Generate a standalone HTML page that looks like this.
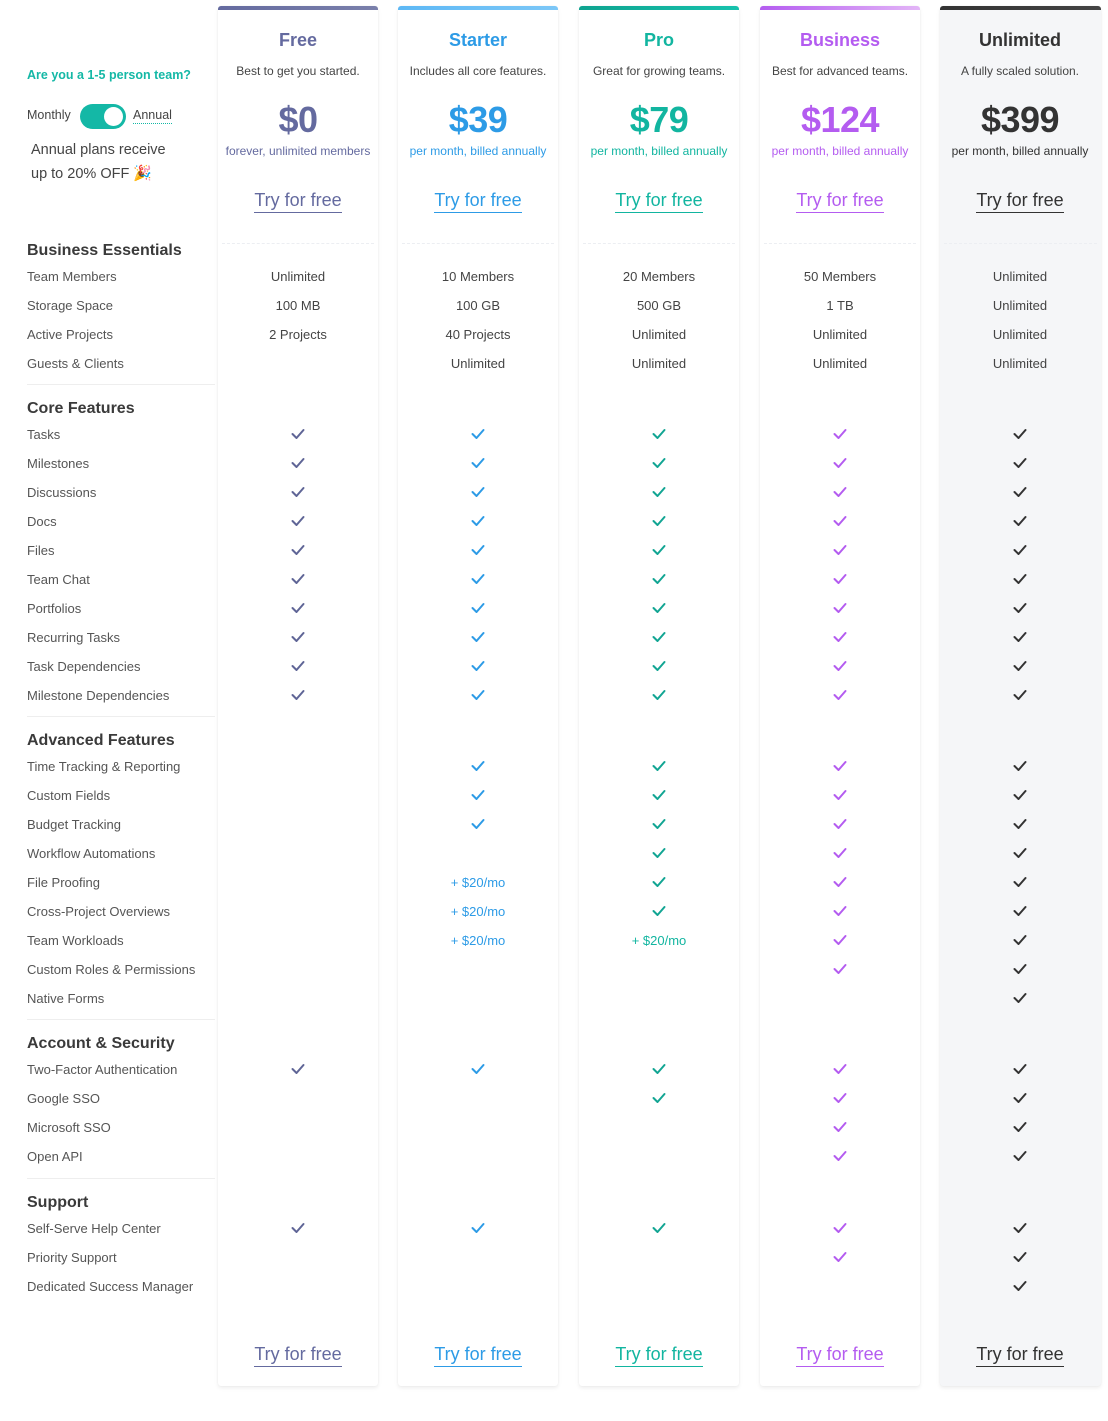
<!DOCTYPE html>
<html><head><meta charset="utf-8">
<style>
*{margin:0;padding:0;box-sizing:border-box}
body{width:1108px;height:1421px;background:#fff;position:relative;overflow:hidden;font-family:"Liberation Sans",sans-serif;color:#444}
.a{position:absolute}
.card{position:absolute;top:6px;width:160px;height:1380px;background:#fff;box-shadow:0 2px 4px rgba(0,0,0,.07),0 0 1px rgba(0,0,0,.08);border-radius:4px 4px 3px 3px}
.bar{position:absolute;left:0;top:0;width:100%;height:4px;border-radius:3px 3px 0 0}
.c{position:absolute;text-align:center;white-space:nowrap}
.lab{position:absolute;left:27px;font-size:13px;color:#555;white-space:nowrap}
.hd{position:absolute;left:27px;font-size:16px;font-weight:bold;color:#3a3a3a}
.sep{position:absolute;left:27px;width:188px;height:1px;background:#eee}
</style></head><body>
<div class="a" style="left:27px;top:68px;font-size:12.5px;font-weight:bold;color:#14b8a6">Are you a 1-5 person team?</div>
<div class="a" style="left:27px;top:108px;font-size:12.5px;color:#444">Monthly</div>
<div class="a" style="left:80px;top:104px;width:46px;height:25px;border-radius:13px;background:#14b8a6"><div class="a" style="right:3px;top:3px;width:19px;height:19px;border-radius:50%;background:#fff"></div></div>
<div class="a" style="left:133px;top:108px;font-size:12.5px;color:#444;border-bottom:1.5px dotted #14b8a6;padding-bottom:1px">Annual</div>
<div class="a" style="left:31px;top:138px;font-size:14.5px;color:#444;line-height:24px">Annual plans receive<br>up to 20% OFF <span style="font-size:15px">🎉</span></div>
<div id="root"></div>
<script>
var cols=[{x:218,n:"Free",s:"Best to get you started.",p:"$0",sub:"forever, unlimited members",c:"#646a9f",g:"#646a9f,#7a80ab"},
{x:398,n:"Starter",s:"Includes all core features.",p:"$39",sub:"per month, billed annually",c:"#2d9be6",g:"#5db8f5,#7cc7f7"},
{x:579,n:"Pro",s:"Great for growing teams.",p:"$79",sub:"per month, billed annually",c:"#12b5a0",g:"#0ea38f,#17c2ad"},
{x:760,n:"Business",s:"Best for advanced teams.",p:"$124",sub:"per month, billed annually",c:"#b45cf0",g:"#b45cf0,#e3b5f7"},
{x:940,n:"Unlimited",s:"A fully scaled solution.",p:"$399",sub:"per month, billed annually",c:"#333",g:"#333,#444"}];
var h="";
var ck=["#5f6596","#2d9be6","#12a593","#b45cf0","#333"];
cols.forEach(function(o,i){
 h+='<div class="card" style="left:'+o.x+'px;'+(i==4?'background:#f5f6f8;width:161px':'')+'"><div class="bar" style="background:linear-gradient(90deg,'+o.g+')"></div>'+
 '<div class="a" style="left:4px;right:4px;top:237px;border-top:1px dashed #eceef2"></div></div>';
 var cx=o.x+80;
 h+='<div class="c" style="left:'+(cx-100)+'px;width:200px;top:30px;font-size:18px;font-weight:bold;color:'+o.c+'">'+o.n+'</div>';
 h+='<div class="c" style="left:'+(cx-100)+'px;width:200px;top:64px;font-size:12px;color:#444">'+o.s+'</div>';
 h+='<div class="c" style="left:'+(cx-100)+'px;width:200px;top:99px;font-size:36px;font-weight:bold;color:'+o.c+';letter-spacing:-0.5px">'+o.p+'</div>';
 h+='<div class="c" style="left:'+(cx-100)+'px;width:200px;top:144px;font-size:12px;color:'+o.c+'">'+o.sub+'</div>';
 [190,1344].forEach(function(y){h+='<div class="c" style="left:'+(cx-100)+'px;width:200px;top:'+y+'px"><span style="font-size:18px;color:'+o.c+';border-bottom:1.5px solid '+o.c+';padding-bottom:2px">Try for free</span></div>';});
});
var secs=[["Business Essentials",250,["Team Members","Storage Space","Active Projects","Guests & Clients"]],
["Core Features",408,["Tasks","Milestones","Discussions","Docs","Files","Team Chat","Portfolios","Recurring Tasks","Task Dependencies","Milestone Dependencies"]],
["Advanced Features",740,["Time Tracking & Reporting","Custom Fields","Budget Tracking","Workflow Automations","File Proofing","Cross-Project Overviews","Team Workloads","Custom Roles & Permissions","Native Forms"]],
["Account & Security",1043,["Two-Factor Authentication","Google SSO","Microsoft SSO","Open API"]],
["Support",1202,["Self-Serve Help Center","Priority Support","Dedicated Success Manager"]]];
var ess=[["Unlimited","100 MB","2 Projects",""],["10 Members","100 GB","40 Projects","Unlimited"],["20 Members","500 GB","Unlimited","Unlimited"],["50 Members","1 TB","Unlimited","Unlimited"],["Unlimited","Unlimited","Unlimited","Unlimited"]];
function chk(x,y,c){return '<svg class="a" style="left:'+(x-7)+'px;top:'+(y-6)+'px" width="14" height="12"><polyline points="1.5,6 5.5,10 12.5,2" fill="none" stroke="'+c+'" stroke-width="2" stroke-linecap="round" stroke-linejoin="round"/></svg>';}
var seps=[384,716,1019,1178];
seps.forEach(function(y){h+='<div class="sep" style="top:'+y+'px"></div>';});
secs.forEach(function(s,si){
 h+='<div class="hd" style="top:'+(s[1]-8)+'px">'+s[0]+'</div>';
 s[2].forEach(function(r,ri){
  var y=s[1]+26+ri*29;
  h+='<div class="lab" style="top:'+(y-7)+'px">'+r+'</div>';
  cols.forEach(function(o,ci){
   var cx=o.x+80;
   if(si==0){h+='<div class="c" style="left:'+(cx-80)+'px;width:160px;top:'+(y-7)+'px;font-size:13px;color:#444">'+ess[ci][ri]+'</div>';return;}
   var n=[0,10,[0,3,6,8,9],[1,1,2,4,4],[1,1,1,2,3]][si];
   var cnt=si==1?10:n[ci];
   if(ri<cnt){h+=chk(cx,y,ck[ci]);}
   else if(si==2&&((ci==1&&ri>=4&&ri<=6)||(ci==2&&ri==6))){h+='<div class="c" style="left:'+(cx-80)+'px;width:160px;top:'+(y-7)+'px;font-size:13px;color:'+cols[ci].c+'">+ $20/mo</div>';}
  });
 });
});
document.getElementById("root").innerHTML=h;
</script>
</body></html>
